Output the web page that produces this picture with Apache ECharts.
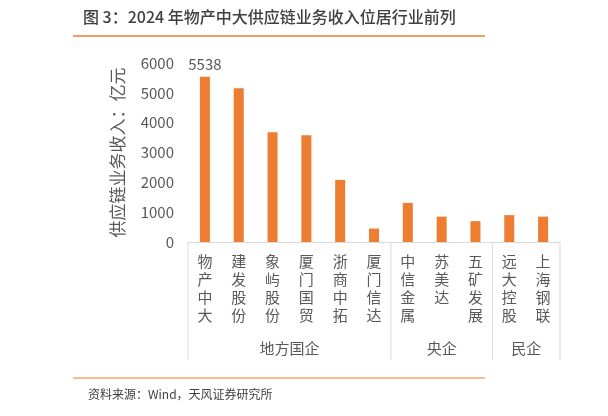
<!DOCTYPE html><html><head><meta charset="utf-8"><script src="https://cdn.jsdelivr.net/npm/echarts@6/dist/echarts.min.js"></script>
<style>body{margin:0;background:#fff}#c{width:608px;height:416px}</style></head><body><div id="c"></div><script>
const categories=['物产中大','建发股份','象屿股份','厦门国贸','浙商中拓','厦门信达','中信金属','苏美达','五矿发展','远大控股','上海钢联'];
const values=[5538,5150,3680,3580,2080,450,1310,850,700,900,850];
const groups=[{name:'地方国企',from:0,to:5},{name:'央企',from:6,to:8},{name:'民企',from:9,to:10}];
const yTicks=[0,1000,2000,3000,4000,5000,6000];
const font='"Noto Sans CJK SC","Noto Sans",sans-serif';
const chart=echarts.init(document.getElementById('c'));
chart.setOption({
 animation:false,
 grid:{left:188,right:48,top:63,bottom:174},
 xAxis:{type:'category',data:categories,axisTick:{show:false},axisLine:{lineStyle:{color:'#d9d9d9'}},
  axisLabel:{interval:0,fontFamily:font,fontSize:15,color:'#595959',lineHeight:18,margin:10,formatter:v=>v.split('').join('\n')}},
 yAxis:{type:'value',min:yTicks[0],max:yTicks[yTicks.length-1],interval:1000,splitLine:{show:false},axisLine:{show:false},axisTick:{show:false},
  axisLabel:{fontFamily:font,fontSize:15,color:'#595959',margin:14,formatter:v=>String(v)},
  name:'供应链业务收入：亿元',nameLocation:'middle',nameGap:62,nameTextStyle:{fontFamily:font,fontSize:17,color:'#595959'}},
 series:[{type:'bar',data:values,barWidth:10,itemStyle:{color:'#ED7D31'},
  label:{show:true,position:'top',fontFamily:font,fontSize:15,color:'#595959',formatter:p=>p.dataIndex===0?String(p.value):''}}]
});
const g=[
 {type:'text',left:83,top:9,style:{text:'图 3：2024 年物产中大供应链业务收入位居行业前列',fontFamily:font,fontSize:16,fontWeight:500,fill:'#404040'}},
 {type:'line',shape:{x1:73,y1:36,x2:485,y2:36},style:{stroke:'#ED7D31',lineWidth:1.5}},
 {type:'line',shape:{x1:73,y1:378,x2:485,y2:378},style:{stroke:'#ED7D31',lineWidth:1}},
 {type:'text',left:88,top:388,style:{text:'资料来源：Wind，天风证券研究所',fontFamily:font,fontSize:12,fill:'#404040'}}
];
const step=chart.convertToPixel({xAxisIndex:0},categories[1])-chart.convertToPixel({xAxisIndex:0},categories[0]);
const y0=242,y1=360;
groups.forEach((gr,i)=>{
 const l=chart.convertToPixel({xAxisIndex:0},categories[gr.from])-step/2;
 const r=chart.convertToPixel({xAxisIndex:0},categories[gr.to])+step/2;
 if(i===0)g.push({type:'line',shape:{x1:l,y1:y0,x2:l,y2:y1},style:{stroke:'#d9d9d9'}});
 g.push({type:'line',shape:{x1:r,y1:y0,x2:r,y2:y1},style:{stroke:'#d9d9d9'}});
 g.push({type:'text',x:(l+r)/2,y:348,style:{text:gr.name,fontFamily:font,fontSize:15,fill:'#595959',align:'center',verticalAlign:'middle'}});
});
chart.setOption({graphic:g});
</script></body></html>
